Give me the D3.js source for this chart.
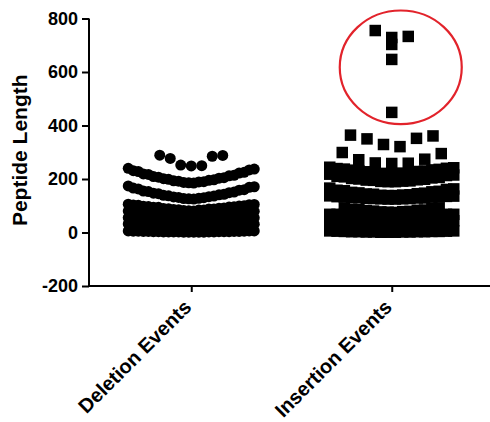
<!DOCTYPE html>
<html>
<head>
<meta charset="utf-8">
<script src="https://cdn.jsdelivr.net/npm/d3@7"></script>
<style>
  html, body { margin: 0; padding: 0; background: #fff; }
  svg { display: block; }
  text { font-family: "Liberation Sans", Arial, Helvetica, sans-serif; font-weight: bold; fill: #000; }
</style>
</head>
<body>
<svg id="chart" width="490" height="422"></svg>
<script>
// ---- data -------------------------------------------------------------
const categories = ["Deletion Events", "Insertion Events"];
const yTicks = [-200, 0, 200, 400, 600, 800];
const yTitle = "Peptide Length";

// Peptide lengths (aa) of the deletion events
const deletionLengths = [
  1, 1, 1, 1, 1, 2, 2, 2, 2, 2, 2, 3, 3, 3, 3, 3, 4, 4, 4, 4, 5, 5, 5, 6, 6, 6,
  18, 18, 19, 19, 19, 20, 21, 21, 22, 22, 23, 23, 24, 24, 24, 25, 26, 26, 27, 27, 28, 29, 30, 30, 31, 32,
  36, 36, 37, 38, 38, 39, 40, 40, 41, 42, 43, 43, 44, 45, 46, 46, 47, 48, 49, 50, 51, 52, 53, 54, 55, 56,
  65, 65, 66, 66, 67, 67, 68, 68, 69, 69, 70, 70, 71, 72, 72, 73, 74, 74, 75, 76, 76, 77, 78, 78, 79, 80,
  80, 81, 82, 84, 84, 85, 86, 88, 88, 89, 90, 91, 92, 94, 94, 95, 96, 97, 98, 99, 100, 102, 103, 104, 105, 106,
  125, 126, 127, 128, 130, 131, 133, 134, 136, 137, 139, 141, 143, 145, 147, 149, 151, 153, 155, 158, 160, 163, 166, 169, 171, 174,
  185, 186, 187, 189, 190, 192, 193, 195, 197, 199, 201, 203, 205, 207, 209, 212, 214, 217, 219, 222, 225, 228, 231, 234, 237, 240,
  249, 250, 252, 277, 285, 288, 289
];

// Peptide lengths (aa) of the insertion events
const insertionLengths = [
  1, 1, 1, 2, 2, 2, 2, 3, 3, 3, 3, 4, 4, 4, 5, 5, 6, 6,
  30, 30, 31, 32, 33, 33, 34, 35, 36, 37, 38, 39, 40, 41, 42, 43, 44, 45,
  65, 65, 65, 66, 66, 66, 66, 67, 67, 67, 67, 67, 68, 68, 68, 68, 68, 68,
  75, 76, 77, 78, 79, 80, 82, 83, 84, 86, 87, 89, 90, 92,
  125, 125, 126, 126, 127, 127, 128, 129, 129, 130, 131, 132, 132, 133, 134, 135, 136, 137,
  138, 138, 139, 140, 141, 143, 144, 145, 147, 148, 150, 152, 154, 156, 158, 161, 163, 166,
  190, 190, 191, 192, 193, 195, 196, 197, 199, 200, 202, 204, 206, 208, 210, 213, 215, 218,
  218, 219, 221, 222, 224, 225, 227, 228, 230, 231, 233, 234, 236, 237, 239, 240, 242, 244,
  258, 259, 260, 272, 274, 295, 299,
  321, 329, 350, 352, 361, 364,
  449, 647, 703, 729, 733, 755
];

// Range of lengths singled out by the red ring
const highlightRange = [405, 830];

// ---- scales -----------------------------------------------------------
const W = 490, H = 422;
const axisLeftX = 89;
const axisBottomY = 286;

const svg = d3.select("#chart");
svg.append("rect").attr("width", W).attr("height", H).attr("fill", "#fff");

const y = d3.scaleLinear().domain([-200, 800]).range([axisBottomY, 18.5]);
const x = d3.scalePoint().domain(categories).range([91, 492]).padding(0.5);

// ---- column scatter layout -------------------------------------------
// Values are grouped into bins of equal height; inside a bin they are sorted
// and spread from the centre outwards, so larger values sit further out.
// Crowded bins are squeezed to a maximum width and, when still too full,
// laid down in several overlapping passes.
const BIN = 60, BIN_START = 5;

function columnScatter(values, cx, opt) {
  const bins = d3.group(values, v => Math.max(0, Math.floor((v - BIN_START) / BIN)));
  const pts = [];
  const cap = Math.floor(opt.maxSpan / opt.minStep) + 1;
  for (const vals of bins.values()) {
    const sorted = vals.slice().sort(d3.ascending);
    const n = sorted.length;
    const first = Math.min(n, cap);
    const step = first > 1 ? Math.min(opt.maxStep, opt.maxSpan / (first - 1)) : 0;
    for (let p = 0; p < n; p += cap) {
      const pass = sorted.slice(p, p + cap);
      const m = pass.length;
      const odd = m % 2 === 1;
      let i = 0;
      if (odd) { pts.push({ v: pass[0], x: cx }); i = 1; }
      for (let k = 1; i + 1 < m; i += 2, k++) {
        const off = (odd ? k : k - 0.5) * step;
        const lo = pass[i], hi = pass[i + 1];
        const loSide = k % 2 === 1 ? 1 : -1;
        pts.push({ v: lo, x: cx + loSide * off });
        pts.push({ v: hi, x: cx - loSide * off });
      }
    }
  }
  return pts;
}

const delPts = columnScatter(deletionLengths, x(categories[0]),
  { maxSpan: 126, minStep: 5, maxStep: 10.5 });
const insPts = columnScatter(insertionLengths, x(categories[1]),
  { maxSpan: 124, minStep: 7, maxStep: 16.5 });

// ---- axes -------------------------------------------------------------
const yAxis = svg.append("g")
  .attr("transform", `translate(${axisLeftX},0)`)
  .call(d3.axisLeft(y).tickValues(yTicks).tickFormat(d => String(d))
    .tickSize(7).tickSizeOuter(0).tickPadding(4));
yAxis.select(".domain").attr("stroke", "#000").attr("stroke-width", 2)
  .attr("d", `M0,${axisBottomY + 1}V${y(800)}`);
yAxis.selectAll(".tick line").attr("stroke", "#000").attr("stroke-width", 2);
yAxis.selectAll(".tick text").attr("font-size", 18)
  .style("font-family", "'Liberation Sans', Arial, sans-serif").style("font-weight", "bold");

const xAxis = svg.append("g")
  .attr("transform", `translate(0,${axisBottomY})`)
  .call(d3.axisBottom(x).tickSize(6).tickSizeOuter(0));
xAxis.select(".domain").attr("stroke", "#000").attr("stroke-width", 2)
  .attr("d", `M${axisLeftX - 1},0H${W}`);
xAxis.selectAll(".tick line").attr("stroke", "#000").attr("stroke-width", 2);
xAxis.selectAll(".tick text")
  .attr("x", null).attr("y", null).attr("dy", "0.35em")
  .attr("transform", "translate(-4,17.5) rotate(-45)")
  .attr("text-anchor", "end")
  .attr("font-size", 20)
  .style("font-family", "'Liberation Sans', Arial, sans-serif").style("font-weight", "bold");

svg.append("text")
  .attr("transform", `translate(27,${(y(-200) + y(800)) / 2 - 2}) rotate(-90)`)
  .attr("text-anchor", "middle")
  .attr("font-size", 21)
  .text(yTitle);

// ---- marks ------------------------------------------------------------
const SQ = 11.5;
svg.append("g").selectAll("circle")
  .data(delPts).join("circle")
  .attr("cx", d => d.x).attr("cy", d => y(d.v)).attr("r", 5.5)
  .attr("fill", "#000");

svg.append("g").selectAll("rect")
  .data(insPts).join("rect")
  .attr("x", d => d.x - SQ / 2).attr("y", d => y(d.v) - SQ / 2)
  .attr("width", SQ).attr("height", SQ)
  .attr("fill", "#000");

// red ring around the long insertion peptides
svg.append("ellipse")
  .attr("cx", x(categories[1]) + 9)
  .attr("cy", (y(highlightRange[0]) + y(highlightRange[1])) / 2)
  .attr("rx", 61)
  .attr("ry", (y(highlightRange[0]) - y(highlightRange[1])) / 2)
  .attr("fill", "none")
  .attr("stroke", "#e2232b")
  .attr("stroke-width", 2.2);
</script>
</body>
</html>
